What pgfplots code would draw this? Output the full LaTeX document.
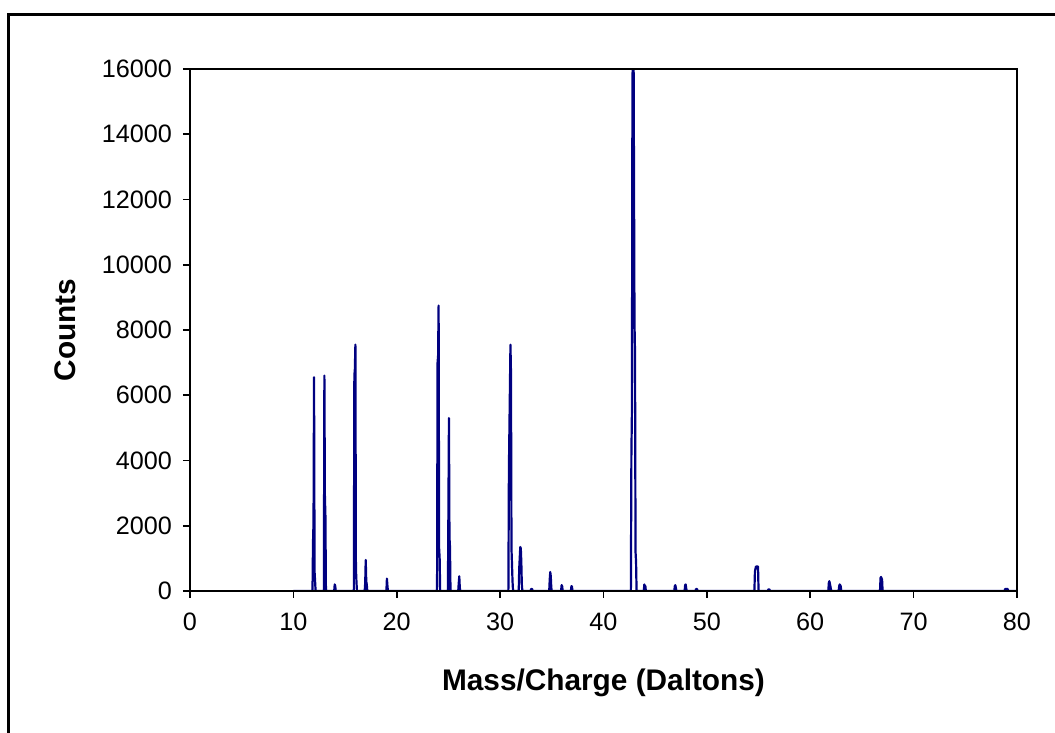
\documentclass[border=0pt]{standalone}
\usepackage{pgfplots}
\pgfplotsset{compat=1.18}
\usepackage{fontspec}
\setmainfont{Liberation Sans}
\definecolor{navy}{RGB}{0,0,128}
\begin{document}
\begin{tikzpicture}
\useasboundingbox (0,0) rectangle (527.5pt,366.5pt);
\fill[white] (0,0) rectangle (527.5pt,366.5pt);
\draw[line width=1.5pt] (4pt,-10pt) -- (4pt,359pt) -- (540pt,359pt);
\begin{axis}[
  at={(95pt,71pt)}, anchor=south west,
  scale only axis, width=413.5pt, height=261pt,
  xmin=0, xmax=80, ymin=0, ymax=16000,
  xtick={0,10,...,80}, ytick={0,2000,...,16000},
  scaled y ticks=false,
  yticklabel={\pgfmathprintnumber[fixed,precision=0,1000 sep={}]{\tick}},
  tick align=outside, major tick length=3.5pt,
  xtick pos=bottom, ytick pos=left,
  axis line style={line width=0.8pt},
  every tick/.style={black, line width=0.8pt},
  /pgf/number format/1000 sep={},
  /pgf/number format/assume math mode=true,
  tick label style={font=\fontsize{12.6}{14}\selectfont},
  xticklabel style={yshift=-4pt},
  yticklabel style={xshift=-2pt},
  label style={font=\fontsize{14.9}{17}\selectfont\bfseries},
  xlabel={Mass/Charge (Daltons)}, ylabel={Counts},
  xlabel style={at={(axis description cs:0.5,-0.1762)}, anchor=center},
  ylabel style={at={(axis description cs:-0.1511,0.5)}, anchor=center},
  axis on top, clip=true,
]
\addplot[navy, line width=1.1pt, line join=round] coordinates {
(10,0)(11.85,0)(11.9,1500)(11.95,2100)(12.0,6550)(12.05,600)(12.1,300)(12.15,0)
(12.95,0)(13.0,6600)(13.05,2900)(13.1,2300)(13.15,0)
(13.95,0)(14.0,200)(14.05,150)(14.1,0)
(15.85,0)(15.9,6600)(15.95,6800)(16.0,7550)(16.05,700)(16.1,300)(16.15,0)
(16.9,0)(16.95,250)(17.0,950)(17.05,300)(17.1,200)(17.15,0)
(19.0,0)(19.05,380)(19.1,150)(19.15,0)
(23.9,0)(23.95,7000)(24.0,7200)(24.05,8750)(24.1,1300)(24.15,1000)(24.2,0)
(24.95,0)(25.0,2600)(25.05,5300)(25.1,1650)(25.15,1350)(25.2,0)
(25.95,0)(26.0,250)(26.05,450)(26.1,100)(26.15,0)
(30.8,0)(30.85,3700)(31.0,7550)(31.05,6700)(31.1,1300)(31.2,300)(31.25,0)
(31.8,0)(31.85,700)(31.95,1350)(32.0,1300)(32.05,900)(32.1,200)(32.15,0)
(32.95,0)(33.0,60)(33.1,60)(33.15,0)
(34.75,0)(34.8,350)(34.85,580)(34.9,450)(34.95,100)(35.0,0)
(35.9,0)(35.95,180)(36.0,150)(36.05,0)
(36.85,0)(36.9,150)(36.95,130)(37.0,0)
(42.65,0)(42.7,4200)(42.75,5500)(42.8,15600)(42.9,17500)(43.0,8200)(43.05,7300)(43.1,1200)(43.15,900)(43.2,0)
(43.9,0)(43.95,200)(44.0,130)(44.05,150)(44.1,0)
(46.85,0)(46.9,150)(46.95,180)(47.0,100)(47.05,0)
(47.85,0)(47.9,180)(47.95,200)(48.0,80)(48.05,0)
(48.9,0)(48.95,60)(49.05,60)(49.1,0)
(54.6,0)(54.65,600)(54.75,750)(54.95,750)(55.0,0)
(55.9,0)(55.95,50)(56.05,50)(56.1,0)
(61.75,0)(61.8,250)(61.85,300)(61.95,150)(62.0,50)(62.05,0)
(62.75,0)(62.8,150)(62.85,200)(62.95,150)(63.0,0)
(66.75,0)(66.8,400)(66.85,430)(66.95,350)(67.0,0)
(78.8,0)(78.85,60)(79.1,60)(79.15,0)(80,0)
};
\end{axis}
\end{tikzpicture}
\end{document}
